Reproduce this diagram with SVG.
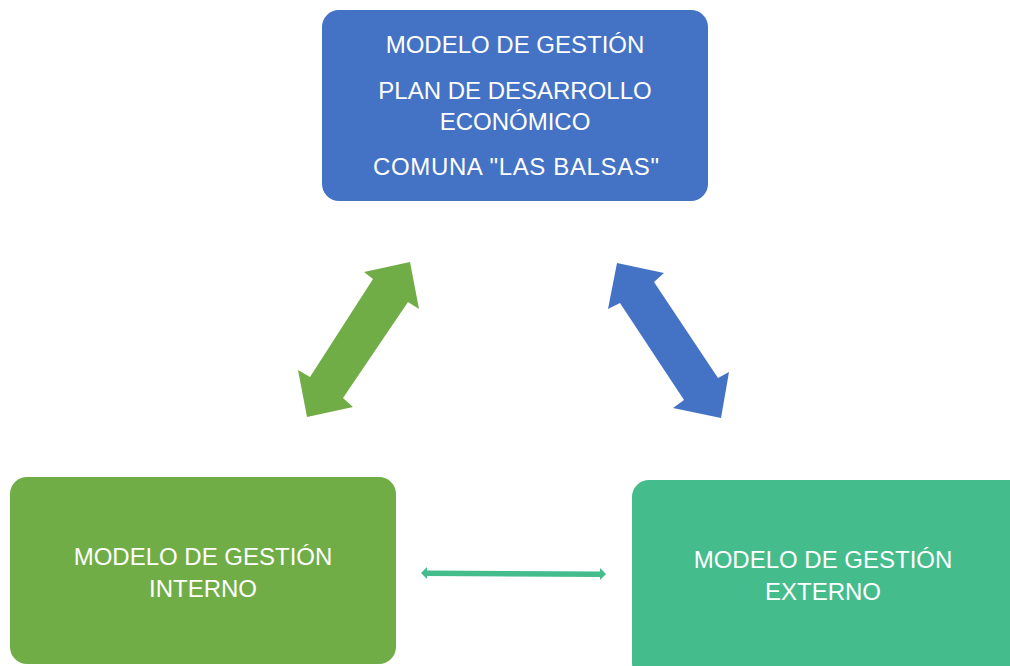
<svg xmlns="http://www.w3.org/2000/svg" width="1010" height="666" viewBox="0 0 1010 666">
<style>
.t{font-family:"Liberation Sans",Arial,sans-serif;font-size:24px;fill:#ffffff;text-anchor:middle}
</style>
<rect width="1010" height="666" fill="#ffffff"/>
<g id="node-top">
<rect x="322" y="10" width="386" height="191" rx="17" fill="#4472C4"/>
<text class="t" x="515" y="53">MODELO DE GESTIÓN</text>
<text class="t" x="515" y="99">PLAN DE DESARROLLO</text>
<text class="t" x="515" y="130">ECONÓMICO</text>
<text class="t" x="516" y="175" textLength="286" lengthAdjust="spacing">COMUNA "LAS BALSAS"</text>
</g>
<g id="node-interno">
<rect x="10" y="477" width="386" height="187" rx="17" fill="#70AD47"/>
<text class="t" x="203" y="565">MODELO DE GESTIÓN</text>
<text class="t" x="203" y="597">INTERNO</text>
</g>
<g id="node-externo">
<rect x="632" y="480" width="400" height="200" rx="17" fill="#44BC8C"/>
<text class="t" x="823" y="568">MODELO DE GESTIÓN</text>
<text class="t" x="823" y="600">EXTERNO</text>
</g>
<g id="connectors">
<polygon fill="#70AD47" points="410,262 419,309 408,302 343,398 353,407 307,417 298,370 310,377 373,279 364,272"/>
<polygon fill="#4472C4" points="617,263 664,273 654,282 718,378 729,372 721,418 673,408 684,400 620,303 608,309"/>
<polygon fill="#44BC8C" points="421,573 427,567 427,570.5 600,571.5 600,568 606,574 600,580 600,577 427,576 427,579"/>
</g>
</svg>
